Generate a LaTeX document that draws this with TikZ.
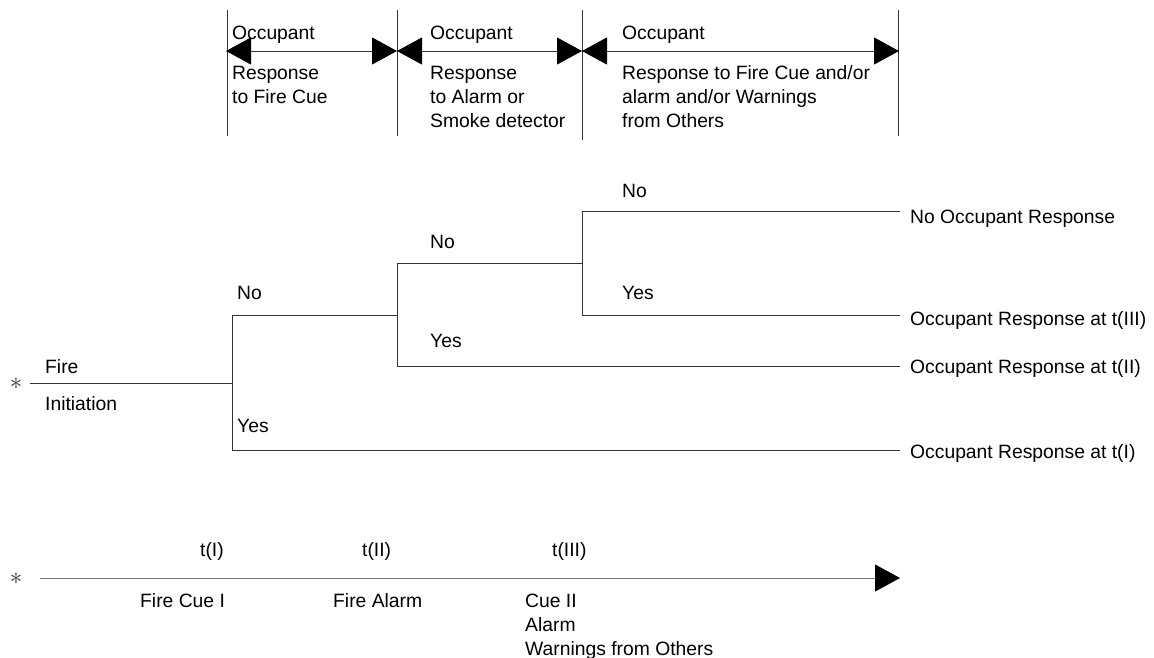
\documentclass[tikz,border=0pt]{standalone}
\usepackage{fontspec}
\setmainfont{Liberation Sans}
\usetikzlibrary{arrows.meta}
\tikzset{
  ln/.style={draw=black!80, line width=0.9pt},
  txt/.style={anchor=base west, inner sep=0pt, font=\fontsize{19.3}{24}\selectfont},
  big/.style={-{Triangle[length=25pt,width=27pt,fill=black,color=black]}},
  dbl/.style={{Triangle[length=25pt,width=27pt,fill=black,color=black]}-{Triangle[length=25pt,width=27pt,fill=black,color=black]}},
  star/.style={inner sep=0pt, text=black!80, font=\fontsize{24}{24}\selectfont}
}
\begin{document}
\begin{tikzpicture}[x=1pt,y=-1pt]
\useasboundingbox (0,0) rectangle (1154,657);
% top section
\foreach \n/\x/\b in {v1/227/136, v2/397/136, v3/582/140, v4/898/136}{
  \coordinate (\n t) at (\x,10);
  \coordinate (\n b) at (\x,\b);
  \draw[ln] (\n t) -- (\n b);
}
\coordinate (a1) at (226,51); \coordinate (a2) at (397,51);
\coordinate (a3) at (582,51); \coordinate (a4) at (899,51);
\draw[ln,dbl] (a1) -- (a2);
\draw[ln,dbl] (a2) -- (a3);
\draw[ln,dbl] (a3) -- (a4);
\node[txt] (o1) at (232,39) {Occupant};
\node[txt] (r1) at (232,79) {Response};
\node[txt] (r1b) at (232,103) {to Fire Cue};
\node[txt] (o2) at (430,39) {Occupant};
\node[txt] (r2) at (430,79) {Response};
\node[txt] (r2b) at (430,103) {to Alarm or};
\node[txt] (r2c) at (430,127) {Smoke detector};
\node[txt] (o3) at (622,39) {Occupant};
\node[txt] (r3) at (622,79) {Response to Fire Cue and/or};
\node[txt] (r3b) at (622,103) {alarm and/or Warnings};
\node[txt] (r3c) at (622,127) {from Others};
% tree
\node[star] (s1) at (16,384) {$\ast$};
\coordinate (f0) at (30,383);
\coordinate (f1) at (233,383);
\draw[ln] (f0) -- (f1);
\node[txt] (fire) at (45,373) {Fire};
\node[txt] (init) at (45,410) {Initiation};
\coordinate (b1t) at (232,315); \coordinate (b1b) at (232,450);
\draw[ln] (b1t) -- (b1b);
\coordinate (b2t) at (397,263); \coordinate (b2m) at (397,315); \coordinate (b2b) at (397,366);
\coordinate (b3t) at (582,211); \coordinate (b3m) at (582,263); \coordinate (b3b) at (582,315);
\coordinate (e1) at (900,450); \coordinate (e2) at (900,366);
\coordinate (e3) at (900,315); \coordinate (e4) at (900,211);
\draw[ln] (b1t) -- (b2m);
\draw[ln] (b1b) -- (e1);
\draw[ln] (b2t) -- (b2b);
\draw[ln] (b2t) -- (b3m);
\draw[ln] (b2b) -- (e2);
\draw[ln] (b3t) -- (b3b);
\draw[ln] (b3t) -- (e4);
\draw[ln] (b3b) -- (e3);
\node[txt] (no1) at (237,299) {No};
\node[txt] (yes1) at (237,432) {Yes};
\node[txt] (no2) at (430,248) {No};
\node[txt] (yes2) at (430,347) {Yes};
\node[txt] (no3) at (622,197) {No};
\node[txt] (yes3) at (622,299) {Yes};
\node[txt] (l4) at (910,223) {No Occupant Response};
\node[txt] (l3) at (910,325) {Occupant Response at t(III)};
\node[txt] (l2) at (910,373) {Occupant Response at t(II)};
\node[txt] (l1) at (910,458) {Occupant Response at t(I)};
% timeline
\node[star] (s2) at (16,579) {$\ast$};
\coordinate (t0) at (40,578);
\coordinate (t1) at (900,578);
\draw[ln,draw=black!55,big] (t0) -- (t1);
\node[txt] (ti) at (200,556) {t(I)};
\node[txt] (tii) at (362,556) {t(II)};
\node[txt] (tiii) at (552,556) {t(III)};
\node[txt] (c1) at (140,607) {Fire Cue I};
\node[txt] (c2) at (333,607) {Fire Alarm};
\node[txt] (c3) at (525,607) {Cue II};
\node[txt] (c3b) at (525,631) {Alarm};
\node[txt] (c3c) at (525,655) {Warnings from Others};
\end{tikzpicture}
\end{document}
